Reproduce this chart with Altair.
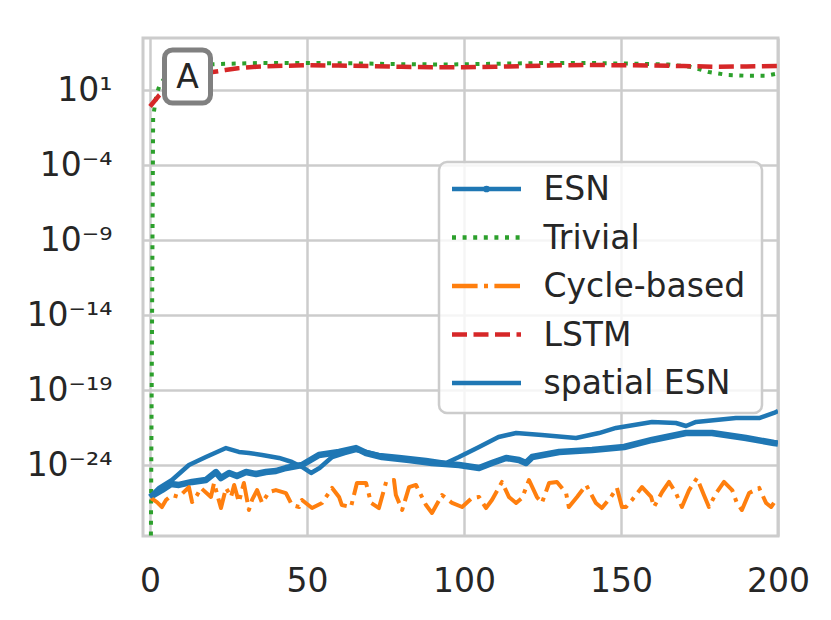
import altair as alt
import pandas as pd

# ---------------- data (x = step, values stored as log10 of the error) ----------------
SERIES = ["ESN", "Trivial", "Cycle-based", "LSTM", "spatial ESN"]
COLORS = ["#1f77b4", "#2ca02c", "#ff7f0e", "#d62728", "#1f77b4"]

ESN_X = [0, 3.8, 6.7, 9.2, 13.4, 17.8, 21, 22.6, 25.2, 27.7, 30.6, 33.8, 36.9, 40.1,
         43.3, 48.4, 53.8, 60.2, 65.6, 68.8, 73.9, 82.5, 89.8, 98.4, 104.8, 108.9,
         113.4, 117.5, 119.7, 121.7, 130.3, 140.8, 151, 159.9, 170.7, 179, 189.8, 198.7, 200]
ESN_LOG = [-26.13, -25.67, -25.27, -25.33, -25.13, -25.0, -24.47, -24.87, -24.53, -24.73,
           -24.47, -24.6, -24.47, -24.4, -24.2, -24.0, -23.33, -23.13, -22.87, -23.2,
           -23.47, -23.67, -23.87, -24.0, -24.2, -23.87, -23.53, -23.67, -23.87, -23.47,
           -23.13, -23.0, -22.8, -22.33, -21.87, -21.87, -22.2, -22.53, -22.57]

TRIV_X = [0, 1, 2, 3, 5, 8, 12, 18, 25, 35, 50, 65, 80, 95, 110, 125, 140, 155, 165,
          172, 178, 184, 190, 196, 200]
TRIV_LOG = [-40, -0.8, 0.6, 1.3, 1.9, 2.3, 2.55, 2.7, 2.75, 2.8, 2.8, 2.78, 2.72, 2.7,
            2.75, 2.8, 2.8, 2.75, 2.7, 2.55, 2.2, 2.0, 1.95, 1.95, 2.1]

CYC_X = [0.3, 2.2, 3.8, 5.1, 7.0, 9.2, 12.4, 13.4, 15.0, 16.2, 19.4, 20.4, 22.6, 24.2,
         25.8, 26.8, 28.3, 29.9, 31.5, 32.5, 34.1, 35.7, 37.9, 40.1, 43.3, 45.2, 47.5,
         48.4, 51.6, 54.8, 58.0, 60.2, 61.1, 64.0, 65.9, 68.8, 70.4, 72.9, 75.2, 77.7,
         78.3, 80.3, 82.5, 84.7, 87.9, 89.8, 93.0, 96.2, 99.4, 102.5, 104.8, 107.0,
         108.9, 112.1, 114.3, 116.6, 118.5, 120.7, 123.2, 124.8, 127.1, 129.6, 132.5,
         133.4, 136.0, 138.9, 142.0, 143.9, 146.8, 148.7, 150.3, 151.6, 153.5, 156.7,
         159.6, 160.5, 163.1, 165.3, 167.5, 169.4, 171.7, 174.2, 176.4, 178.0, 180.3,
         182.8, 185.4, 186.9, 188.5, 190.8, 194.0, 196.2, 197.8, 198.7]
CYC_LOG = [-26.2, -26.47, -26.8, -26.33, -26.0, -26.13, -25.47, -26.47, -26.0, -25.53,
           -26.13, -25.2, -26.87, -25.53, -26.13, -25.33, -26.47, -25.2, -27.0, -26.33,
           -25.67, -26.53, -25.8, -25.67, -25.87, -26.67, -26.8, -26.33, -26.87, -26.53,
           -25.53, -26.13, -26.67, -26.8, -25.2, -25.2, -26.53, -26.87, -25.13, -25.0,
           -26.0, -27.0, -25.47, -25.33, -26.67, -27.2, -26.0, -26.53, -26.8, -26.2,
           -26.13, -26.87, -26.33, -25.13, -26.13, -26.53, -26.2, -25.0, -26.13, -26.53,
           -25.2, -25.13, -25.87, -26.8, -26.13, -25.33, -26.53, -26.87, -26.13, -25.53,
           -26.8, -26.8, -26.33, -25.47, -26.13, -26.8, -25.8, -25.13, -25.87, -26.8,
           -25.67, -24.87, -26.0, -26.8, -25.87, -25.13, -25.67, -26.53, -27.0, -25.87,
           -25.53, -26.53, -26.8, -26.53]

LSTM_X = [0, 3, 6, 9, 12, 16, 20, 24, 28, 34, 40, 50, 60, 70, 80, 90, 100, 110, 120,
          130, 140, 150, 160, 170, 180, 190, 200]
LSTM_LOG = [-0.1, 0.67, 1.2, 1.55, 1.8, 2.05, 2.2, 2.33, 2.45, 2.55, 2.6, 2.65, 2.63,
            2.6, 2.55, 2.52, 2.52, 2.55, 2.6, 2.65, 2.67, 2.65, 2.63, 2.6, 2.55, 2.57, 2.6]

SP_X = [0, 2.9, 7, 12.4, 17.8, 24.2, 28.3, 31.5, 35.7, 41.1, 45.2, 48.4, 51.3, 54, 58,
        62, 65.6, 68.8, 72.9, 79.3, 87.9, 94.3, 98.4, 104.8, 111, 116.6, 124.8, 135.7,
        143, 148.4, 159.9, 167.5, 170.7, 173.9, 186.6, 194, 198.7, 200]
SP_LOG = [-26.13, -25.53, -25.0, -24.0, -23.47, -22.87, -23.13, -23.2, -23.33, -23.53,
          -23.8, -24.13, -24.53, -24.2, -23.47, -23.2, -23.0, -23.13, -23.33, -23.47,
          -23.67, -23.87, -23.47, -22.8, -22.13, -21.87, -22.0, -22.2, -21.87, -21.53,
          -21.13, -21.2, -21.4, -21.13, -20.87, -20.87, -20.53, -20.4]

X_TICKS = [0, 50, 100, 150, 200]
Y_TICK_EXP = [-24, -19, -14, -9, -4, 1]

# ---------------- styling ----------------
W, H = 635, 498
X_DOMAIN = [-2.23, 200]
Y_DOMAIN = [10 ** -28.733, 10 ** 4.467]
FONT = "DejaVu Sans"
FS = 33
TXT = "#262626"
GRID = "#cccccc"

STYLE = {
    "ESN": dict(strokeWidth=6.5),
    "Trivial": dict(strokeWidth=4, strokeDash=[4, 6.6], strokeCap="butt"),
    "Cycle-based": dict(strokeWidth=4, strokeDash=[25.6, 6.4, 4, 6.4], strokeCap="butt"),
    "LSTM": dict(strokeWidth=4.5, strokeDash=[15, 6.5], strokeCap="butt"),
    "spatial ESN": dict(strokeWidth=4.5),
}

rows = []
for name, xs, ls in [("ESN", ESN_X, ESN_LOG), ("Trivial", TRIV_X, TRIV_LOG),
                     ("Cycle-based", CYC_X, CYC_LOG), ("LSTM", LSTM_X, LSTM_LOG),
                     ("spatial ESN", SP_X, SP_LOG)]:
    for x, l in zip(xs, ls):
        rows.append({"series": name, "step": x, "value": 10.0 ** l})
df = pd.DataFrame(rows)

SUP = str.maketrans("-0123456789", "⁻⁰¹²³⁴⁵⁶⁷⁸⁹")
label_expr = "''"
for e in Y_TICK_EXP:
    label_expr = f"round(log(datum.value)/LN10) == {e} ? '10{str(e).translate(SUP)}' : " + label_expr

x_axis = alt.Axis(values=X_TICKS, title=None, ticks=False, domain=False, grid=True,
                  gridColor=GRID, gridWidth=2.5, labelFont=FONT, labelFontSize=FS,
                  labelColor=TXT, labelPadding=29, labelFlush=False)
y_axis = alt.Axis(values=[10.0 ** e for e in Y_TICK_EXP], title=None, ticks=False,
                  domain=False, grid=True, gridColor=GRID, gridWidth=2.5,
                  labelFont=FONT, labelFontSize=FS, labelColor=TXT, labelPadding=31,
                  labelExpr=label_expr, labelFlush=False)


def enc():
    return dict(
        x=alt.X("step:Q", scale=alt.Scale(domain=X_DOMAIN, nice=False, zero=False), axis=x_axis),
        y=alt.Y("value:Q", scale=alt.Scale(type="log", domain=Y_DOMAIN, nice=False), axis=y_axis),
    )


layers = []
for name, color in zip(SERIES, COLORS):
    layers.append(
        alt.Chart(df)
        .transform_filter(alt.datum.series == name)
        .mark_line(color=color, clip=True, strokeJoin="round", **STYLE[name])
        .encode(**enc())
    )

one = alt.Data(values=[{"k": 1}])

# "A" panel tag
layers.append(
    alt.Chart(one).mark_rect(fill="white", stroke="#808080", strokeWidth=5, cornerRadius=8)
    .encode(x=alt.value(21.5), x2=alt.value(67.5), y=alt.value(12), y2=alt.value(65))
)
layers.append(
    alt.Chart(one).mark_text(text="A", font=FONT, fontSize=FS, color=TXT,
                             align="center", baseline="middle")
    .encode(x=alt.value(44.5), y=alt.value(40))
)

# legend
LEG_L, LEG_R, LEG_T, LEG_B = 296, 619, 124, 375
ROW0, ROW = 151, 48.5
layers.append(
    alt.Chart(one).mark_rect(fill="white", fillOpacity=0.8, stroke=GRID, strokeWidth=2.5,
                             cornerRadius=8)
    .encode(x=alt.value(LEG_L), x2=alt.value(LEG_R), y=alt.value(LEG_T), y2=alt.value(LEG_B))
)
for i, (name, color) in enumerate(zip(SERIES, COLORS)):
    yy = ROW0 + i * ROW
    layers.append(
        alt.Chart(one).mark_rule(color=color, **{**STYLE[name], "strokeWidth": 4.5})
        .encode(x=alt.value(309), x2=alt.value(378), y=alt.value(yy))
    )
    if name == "ESN":
        layers.append(
            alt.Chart(one).mark_point(filled=True, color=color, size=45, opacity=1)
            .encode(x=alt.value(343.5), y=alt.value(yy))
        )
    layers.append(
        alt.Chart(one).mark_text(text=name, font=FONT, fontSize=FS, color=TXT,
                                 align="left", baseline="middle")
        .encode(x=alt.value(400.5), y=alt.value(yy + 1))
    )

chart = (
    alt.layer(*layers)
    .properties(width=W, height=H, autosize=alt.AutoSizeParams(type="none"),
                padding={"left": 135, "top": 30, "right": 45, "bottom": 75},
                background="white")
    .configure_view(stroke=GRID, strokeWidth=3)
)

chart.save("out.html", embed_options={"renderer": "svg", "actions": False})
